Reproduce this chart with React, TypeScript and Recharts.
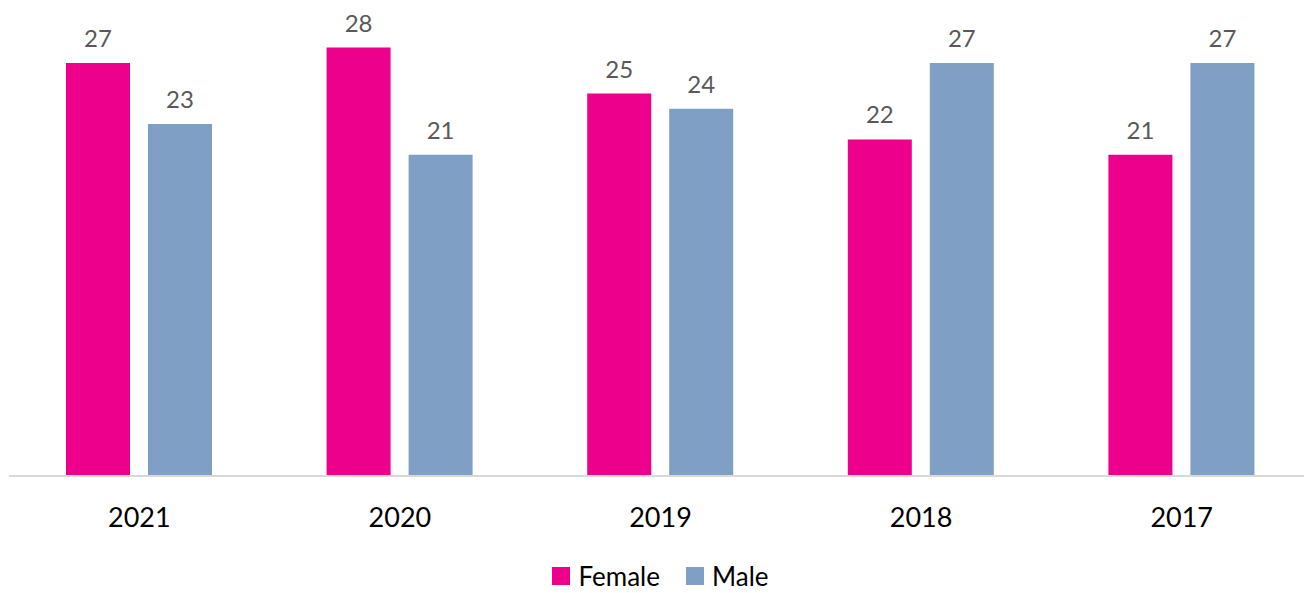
import React from "react";
import { BarChart, Bar, XAxis, YAxis, Legend, LabelList } from "recharts";

const years = ["2021", "2020", "2019", "2018", "2017"];
const female = [27, 28, 25, 22, 21];
const male = [23, 21, 24, 27, 27];

const data = years.map((y, i) => ({ year: y, Female: female[i], Male: male[i] }));

const FONT = "Lato, 'Open Sans', sans-serif";
const PINK = "#EC008C";
const BLUE = "#7F9FC5";

const renderLegend = (props: any) => {
  const payload = props.payload || [];
  return (
    <div style={{ display: "flex", justifyContent: "center", alignItems: "center", height: 34, fontFamily: FONT, fontSize: 26, color: "#000" }}>
      {payload.map((p: any, i: number) => (
        <div key={i} style={{ display: "flex", alignItems: "center", marginRight: i < payload.length - 1 ? 26 : 0 }}>
          <span style={{ display: "inline-block", width: 18, height: 18, background: p.color, marginRight: 8 }} />
          <span>{p.value}</span>
        </div>
      ))}
    </div>
  );
};

export default function App() {
  return (
    <div style={{ width: 1304, height: 585 }}>
      <BarChart width={1304} height={585} data={data} margin={{ top: 9, right: 0, bottom: 0, left: 1 }} barGap={18} barSize={64} style={{ overflow: "visible" }}>
        <XAxis
          dataKey="year"
          axisLine={{ stroke: "#D9D9D9", strokeWidth: 2 }}
          tickLine={false}
          height={83}
          tickMargin={26}
          tick={{ fill: "#000", fontSize: 27, fontFamily: FONT }}
        />
        <YAxis hide domain={[0, 30]} />
        <Legend verticalAlign="bottom" content={renderLegend} />
        <Bar dataKey="Female" fill={PINK} isAnimationActive={false}>
          <LabelList dataKey="Female" position="top" offset={16} style={{ fill: "#595959", fontSize: 24, fontFamily: FONT }} />
        </Bar>
        <Bar dataKey="Male" fill={BLUE} isAnimationActive={false}>
          <LabelList dataKey="Male" position="top" offset={16} style={{ fill: "#595959", fontSize: 24, fontFamily: FONT }} />
        </Bar>
      </BarChart>
    </div>
  );
}
